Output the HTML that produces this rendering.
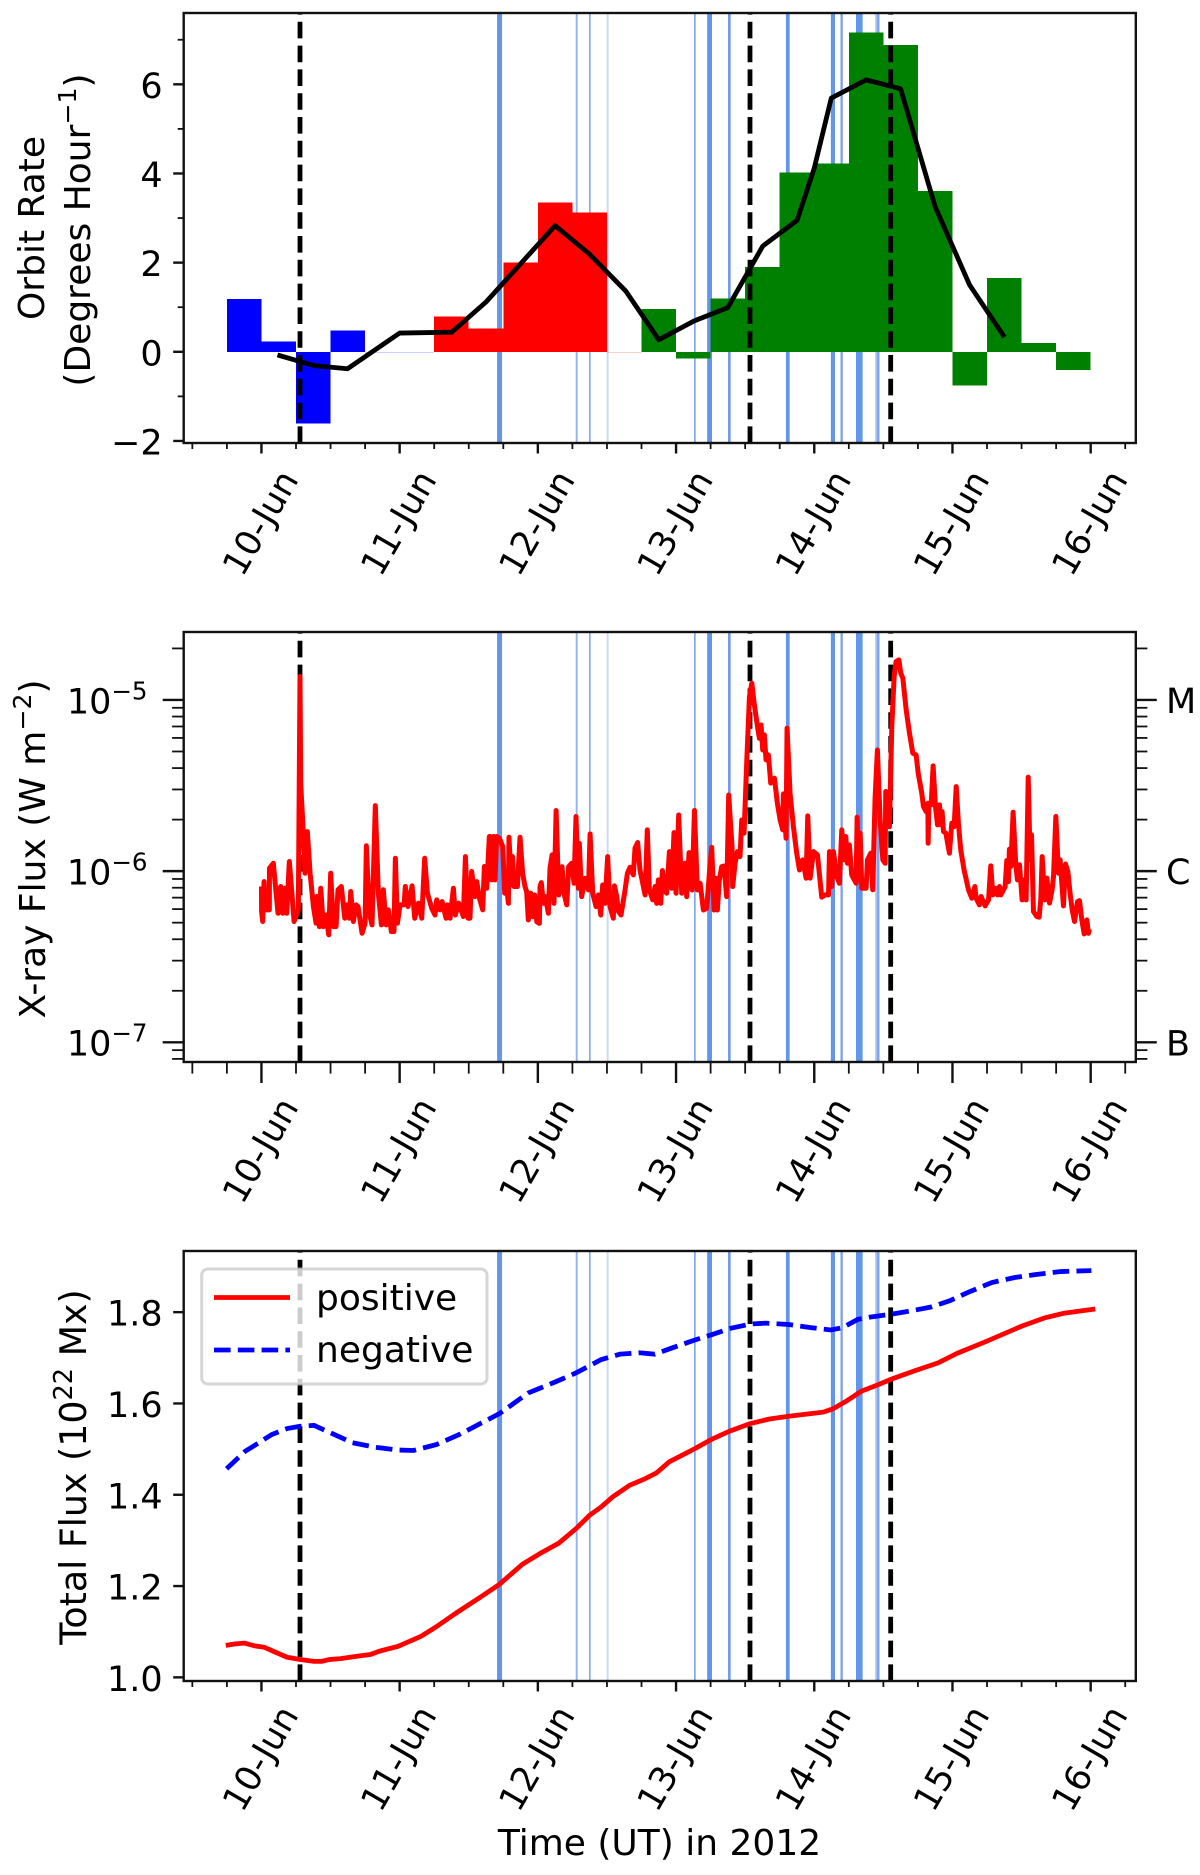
<!DOCTYPE html>
<html lang="en">
<head>
<meta charset="utf-8">
<title>Orbit rate, X-ray flux and total flux, June 2012</title>
<style>
html,body{margin:0;padding:0;background:#fff;}
svg{display:block;}
text{font-family:"DejaVu Sans","Liberation Sans",sans-serif;fill:#000;}
</style>
</head>
<body>
<svg id="figure" xmlns="http://www.w3.org/2000/svg" width="1200" height="1875" viewBox="0 0 1200 1875">
<rect x="0" y="0" width="1200" height="1875" fill="#fff"/>
<g id="panel-marks"></g>
<g font-size="36">
<text transform="translate(44,228) rotate(-90)" text-anchor="middle" font-size="36">Orbit Rate</text>
<text transform="translate(90,230) rotate(-90)" text-anchor="middle" font-size="36">(Degrees Hour<tspan font-size="25.2" dy="-14">−1</tspan><tspan dy="14">)</tspan></text>
<text transform="translate(45,849) rotate(-90)" text-anchor="middle" font-size="36">X-ray Flux (W m<tspan font-size="25.2" dy="-14">−2</tspan><tspan dy="14">)</tspan></text>
<text transform="translate(86,1467) rotate(-90)" text-anchor="middle" font-size="36.4">Total Flux (10<tspan font-size="25.5" dy="-14">22</tspan><tspan dy="14"> Mx)</tspan></text>
<text x="659.5" y="1855" text-anchor="middle" font-size="36">Time (UT) in 2012</text>
</g>
</svg>
<script>
// ---- shared x data (days since 10-Jun 2012 00:00 UT) ----
const dayLabels = ['10-Jun','11-Jun','12-Jun','13-Jun','14-Jun','15-Jun','16-Jun'];
const eventDays = [0.279, 3.535, 4.553];
const flareStart = [1.705, 2.274, 2.370, 2.498, 3.130, 3.225, 3.376, 3.795, 4.120, 4.190, 4.302, 4.440, 4.452];
const flareEnd   = [1.741, 2.288, 2.382, 2.512, 3.142, 3.260, 3.395, 3.822, 4.150, 4.206, 4.350, 4.452, 4.472];
const flareAlpha = [1, 0.7, 0.8, 0.35, 0.85, 1, 0.95, 1, 1, 0.9, 1, 0.5, 0.85];

// ---- orbit-rate panel ----
const barStartDays = [-0.25,0,0.25,0.5,0.75,1,1.25,1.5,1.75,2,2.25,2.5,2.75,3,3.25,3.5,3.75,4,4.25,4.5,4.75,5,5.25,5.5,5.75];
const barValues = [1.18,0.23,-1.61,0.48,0,0,0.79,0.52,2.0,3.35,3.13,0,0.96,-0.15,1.19,1.9,4.02,4.22,7.16,6.88,3.61,-0.755,1.65,0.2,-0.41];
const barColors = ['blue','blue','blue','blue','blue','blue','red','red','red','red','red','red','green','green','green','green','green','green','green','green','green','green','green','green','green'];
const smoothDays = [0.116,0.38,0.623,1.0,1.377,1.626,2.125,2.374,2.637,2.875,3.13,3.374,3.627,3.876,4.0,4.123,4.375,4.625,4.874,5.124,5.376];
const smoothRate = [-0.07,-0.31,-0.38,0.42,0.44,1.12,2.83,2.19,1.36,0.27,0.69,0.99,2.37,2.95,4.12,5.69,6.1,5.9,3.26,1.5,0.33];
const rateMajorTicks = [-2,0,2,4,6];
const rateMinorTicks = [-1,1,3,5,7];

// ---- X-ray panel (log10 of flux in W m^-2) ----
const xrayDays = [
0.000,0.001,0.009,0.019,0.028,0.057,0.058,0.086,0.106,0.120,
0.139,0.154,0.168,0.183,0.202,0.226,0.236,0.267,0.279,0.284,
0.303,0.315,0.332,0.352,0.376,0.395,0.400,0.419,0.429,0.448,
0.467,0.487,0.501,0.521,0.540,0.554,0.578,0.603,0.617,0.636,
0.646,0.665,0.685,0.699,0.728,0.750,0.759,0.781,0.800,0.824,
0.846,0.868,0.882,0.902,0.918,0.940,0.959,0.969,0.984,1.003,
1.032,1.041,1.061,1.090,1.109,1.136,1.160,1.181,1.201,1.232,
1.256,1.268,1.292,1.307,1.336,1.345,1.365,1.389,1.403,1.427,
1.461,1.476,1.495,1.509,1.521,1.545,1.558,1.577,1.601,1.613,
1.630,1.649,1.654,1.666,1.678,1.690,1.702,1.722,1.746,1.760,
1.775,1.787,1.791,1.808,1.816,1.828,1.852,1.871,1.890,1.907,
1.919,1.931,1.948,1.963,1.977,1.992,2.011,2.016,2.025,2.040,
2.054,2.076,2.088,2.103,2.117,2.132,2.151,2.175,2.189,2.209,
2.223,2.245,2.262,2.276,2.293,2.300,2.317,2.341,2.366,2.378,
2.397,2.421,2.438,2.455,2.469,2.486,2.505,2.522,2.546,2.554,
2.571,2.583,2.602,2.631,2.648,2.667,2.691,2.703,2.722,2.739,
2.776,2.792,2.807,2.831,2.848,2.860,2.872,2.889,2.901,2.915,
2.932,2.952,2.969,2.985,3.000,3.019,3.041,3.065,3.077,3.094,
3.116,3.133,3.154,3.174,3.198,3.222,3.241,3.258,3.275,3.289,
3.299,3.313,3.330,3.347,3.366,3.381,3.405,3.410,3.427,3.444,
3.463,3.475,3.492,3.512,3.531,3.548,3.565,3.589,3.603,3.615,
3.627,3.639,3.651,3.668,3.685,3.712,3.733,3.753,3.772,3.777,
3.796,3.803,3.825,3.849,3.873,3.893,3.917,3.941,3.953,3.970,
3.994,4.023,4.054,4.078,4.103,4.110,4.127,4.139,4.163,4.182,
4.199,4.216,4.228,4.240,4.254,4.271,4.303,4.310,4.327,4.332,
4.344,4.375,4.385,4.409,4.423,4.440,4.457,4.476,4.496,4.513,
4.517,4.544,4.561,4.578,4.592,4.612,4.626,4.641,4.665,4.689,
4.713,4.737,4.752,4.778,4.790,4.809,4.822,4.824,4.829,4.846,
4.860,4.877,4.892,4.906,4.916,4.925,4.935,4.952,4.978,4.995,
5.012,5.027,5.043,5.060,5.084,5.116,5.140,5.162,5.171,5.195,
5.207,5.236,5.261,5.277,5.292,5.311,5.326,5.340,5.350,5.381,
5.393,5.405,5.412,5.422,5.439,5.458,5.470,5.485,5.504,5.519,
5.533,5.548,5.562,5.572,5.586,5.610,5.627,5.639,5.649,5.668,
5.683,5.702,5.721,5.731,5.748,5.767,5.779,5.803,5.818,5.835,
5.851,5.866,5.883,5.905,5.919,5.936,5.953,5.972,5.984,5.991];
const xrayLogFlux = [
-6.09,-6.236,-6.294,-6.061,-6.226,-6.226,-5.983,-5.954,-6.129,-6.246,
-6.09,-6.246,-6.10,-6.246,-5.944,-6.187,-6.294,-6.226,-4.863,-5.486,
-5.778,-6.012,-5.769,-6.012,-6.207,-6.304,-6.148,-6.324,-6.10,-6.324,
-6.256,-6.372,-6.012,-6.324,-6.324,-6.109,-6.09,-6.275,-6.197,-6.275,
-6.119,-6.294,-6.197,-6.207,-6.363,-6.304,-5.852,-6.246,-6.314,-5.617,
-6.129,-6.314,-6.109,-6.314,-6.226,-6.353,-6.353,-5.925,-6.304,-6.197,
-6.197,-6.09,-6.207,-6.086,-6.275,-6.187,-6.275,-5.925,-6.129,-6.217,
-6.256,-6.168,-6.226,-6.178,-6.275,-6.197,-6.275,-6.10,-6.256,-6.187,
-6.265,-5.915,-6.275,-6.275,-6.002,-6.148,-6.061,-6.158,-6.226,-5.973,
-6.10,-5.798,-5.798,-6.051,-5.798,-6.051,-5.798,-5.808,-5.857,-6.129,
-6.10,-6.188,-5.802,-6.081,-5.915,-6.09,-6.09,-5.802,-6.013,-6.09,
-6.12,-6.285,-6.129,-6.266,-6.139,-6.295,-6.305,-6.09,-6.067,-6.188,
-6.149,-6.246,-5.983,-5.905,-6.188,-5.646,-6.139,-5.974,-6.129,-6.197,
-5.974,-5.954,-6.071,-5.681,-6.10,-5.837,-6.149,-6.042,-6.11,-5.783,
-6.129,-6.207,-6.139,-6.256,-6.081,-6.188,-5.915,-6.207,-6.275,-6.086,
-6.149,-6.236,-6.256,-6.11,-6.013,-5.977,-6.022,-5.866,-5.833,-5.993,
-6.139,-5.759,-6.11,-6.168,-6.09,-6.188,-6.051,-6.188,-5.997,-6.11,
-6.129,-5.886,-6.10,-5.775,-6.129,-5.672,-6.129,-5.954,-6.149,-5.892,
-6.11,-5.646,-6.11,-6.071,-6.227,-6.217,-6.013,-5.861,-6.227,-6.042,
-6.227,-6.051,-5.974,-5.97,-6.149,-5.555,-5.856,-6.09,-5.954,-5.886,
-5.915,-5.701,-5.778,-5.35,-4.98,-4.902,-5.019,-5.155,-5.224,-5.146,
-5.292,-5.204,-5.35,-5.321,-5.486,-5.457,-5.603,-5.701,-5.759,-5.549,
-5.808,-5.165,-5.545,-5.74,-5.895,-5.993,-5.934,-6.041,-5.677,-6.041,
-5.886,-5.905,-6.152,-6.139,-6.139,-5.886,-6.09,-5.886,-6.032,-6.071,
-5.759,-5.934,-5.798,-5.954,-5.847,-6.022,-6.071,-5.685,-6.051,-5.778,
-6.10,-6.10,-5.934,-5.895,-6.109,-5.574,-5.292,-5.691,-5.934,-5.954,
-5.535,-5.74,-5.155,-4.863,-4.776,-4.766,-4.844,-4.873,-5.058,-5.194,
-5.311,-5.321,-5.428,-5.545,-5.623,-5.652,-5.603,-5.837,-5.613,-5.613,
-5.385,-5.623,-5.73,-5.613,-5.73,-5.652,-5.769,-5.778,-5.895,-5.72,
-5.74,-5.506,-5.72,-5.876,-5.993,-6.109,-6.158,-6.09,-6.158,-6.197,
-6.148,-6.203,-6.168,-5.969,-6.139,-6.10,-6.139,-6.09,-6.139,-6.09,
-5.938,-6.061,-5.872,-5.973,-5.656,-5.963,-6.051,-5.963,-6.168,-6.051,
-6.168,-5.451,-5.934,-5.788,-6.236,-6.265,-6.269,-6.168,-5.915,-6.168,
-6.041,-6.187,-6.109,-6.032,-5.681,-6.012,-5.934,-6.203,-5.958,-6.002,
-6.129,-6.226,-6.294,-6.178,-6.172,-6.285,-6.367,-6.285,-6.363,-6.339];
const xrayExponents = [-5,-6,-7];
const goesClasses = ['M','C','B'];
const xrayDecades = [-8,-7,-6,-5];
const xrayMinorMultipliers = [2,3,4,5,6,7,8,9];

// ---- total-flux panel ----
const positiveDays = [-0.258,-0.197,-0.125,-0.05,0.019,0.102,0.186,0.28,0.38,0.435,0.49,0.573,0.684,0.789,0.85,0.989,1.155,1.266,1.404,1.571,1.723,1.889,2.014,2.152,2.277,2.374,2.457,2.54,2.665,2.775,2.859,2.95,3.136,3.261,3.385,3.538,3.676,3.815,4.065,4.134,4.231,4.342,4.453,4.564,4.73,4.896,5.035,5.229,5.506,5.673,5.811,6.033];
const positiveFlux = [1.070,1.073,1.075,1.069,1.066,1.055,1.044,1.039,1.035,1.035,1.039,1.041,1.046,1.05,1.057,1.068,1.09,1.111,1.14,1.173,1.204,1.248,1.271,1.294,1.326,1.355,1.373,1.395,1.421,1.435,1.448,1.472,1.501,1.522,1.539,1.556,1.566,1.572,1.581,1.588,1.605,1.627,1.64,1.654,1.672,1.689,1.71,1.734,1.77,1.788,1.798,1.807];
const negativeDays = [-0.252,-0.119,-0.008,0.075,0.186,0.28,0.38,0.49,0.657,0.823,0.989,1.1,1.266,1.432,1.571,1.723,1.931,2.125,2.277,2.457,2.595,2.734,2.845,2.956,3.136,3.261,3.399,3.538,3.649,3.815,3.981,4.12,4.203,4.314,4.397,4.564,4.702,4.841,4.98,5.118,5.285,5.451,5.59,5.783,6.005];
const negativeFlux = [1.457,1.495,1.516,1.532,1.545,1.55,1.552,1.537,1.514,1.504,1.498,1.497,1.51,1.532,1.554,1.578,1.623,1.647,1.667,1.696,1.708,1.711,1.708,1.72,1.739,1.751,1.765,1.774,1.776,1.773,1.766,1.761,1.766,1.784,1.789,1.796,1.803,1.811,1.825,1.844,1.865,1.876,1.882,1.889,1.891];
const fluxTicks = [1.0,1.2,1.4,1.6,1.8];

// ---- axis functions ----
const AX_LEFT = 183.7, AX_RIGHT = 1135.8;
const panelTops = [13, 632, 1251];
const PANEL_H = 430;
const LINE_W = 4.8;
const DASHES = '16.6 7.2';
const FONT = 35;
const LEGEND_FONT = 36;
const SUP_FONT = 24.5;
const dayLo = -0.5625, dayHi = 6.3265;
function xDay(d){ return AX_LEFT + (d - dayLo) / (dayHi - dayLo) * (AX_RIGHT - AX_LEFT); }
function yRate(v){ return panelTops[0] + (7.6 - v) / (7.6 + 2.046) * PANEL_H; }
function yLog(v){ return panelTops[1] + (-4.603 - v) / (-4.603 + 7.115) * PANEL_H; }
function yFlux(v){ return panelTops[2] + (1.934 - v) / (1.934 - 0.992) * PANEL_H; }

const NS = 'http://www.w3.org/2000/svg';
const root = document.getElementById('panel-marks');
function make(tag, attrs, parent){
  const e = document.createElementNS(NS, tag);
  for (const k in attrs) e.setAttribute(k, attrs[k]);
  (parent || root).appendChild(e);
  return e;
}
function pathFrom(xs, ys, xf, yf){
  let s = '';
  for (let i = 0; i < xs.length; i++) s += (i ? 'L' : 'M') + xf(xs[i]).toFixed(2) + ' ' + yf(ys[i]).toFixed(2);
  return s;
}
function drawSpans(p){
  const top = panelTops[p];
  flareStart.forEach(function(s, i){
    const r = make('rect', {x: xDay(s), y: top, width: xDay(flareEnd[i]) - xDay(s), height: PANEL_H, fill: '#6495ed', 'fill-opacity': flareAlpha[i]});
    
    
  });
}
function drawEvents(p){
  const top = panelTops[p];
  eventDays.forEach(function(d){
    const l = make('line', {x1: xDay(d), x2: xDay(d), y1: top + PANEL_H, y2: top, stroke: '#000', 'stroke-width': LINE_W, 'stroke-dasharray': DASHES});
    
    
  });
}
function drawFrame(p){
  const top = panelTops[p];
  const f = make('rect', {x: AX_LEFT, y: top, width: AX_RIGHT - AX_LEFT, height: PANEL_H, fill: 'none', stroke: '#111', 'stroke-width': 2.4});
  
  
}
function drawXAxis(p, majorLen, minorLen, labelOffset){
  const bottom = panelTops[p] + PANEL_H;
  for (let q = -2; q <= 25; q++){
    if (q % 4 === 0) continue;
    const d = q / 4;
    const t = make('line', {x1: xDay(d), x2: xDay(d), y1: bottom, y2: bottom + minorLen, stroke: '#111', 'stroke-width': 1.8});
    
    
  }
  dayLabels.forEach(function(lab, i){
    const x = xDay(i);
    const t = make('line', {x1: x, x2: x, y1: bottom, y2: bottom + majorLen, stroke: '#111', 'stroke-width': 2.4});
    
    
    const y = bottom + labelOffset;
    const lx = x - 1.5;
    const tx = make('text', {x: lx, y: y, dy: '.36em', 'text-anchor': 'middle', 'font-size': FONT, transform: 'rotate(-60 ' + lx.toFixed(2) + ' ' + y + ')'});
    
    
    tx.textContent = lab;
  });
}
function yTick(y, len, width, side){
  const x0 = side === 'right' ? AX_RIGHT : AX_LEFT;
  const x1 = side === 'right' ? AX_RIGHT + len : AX_LEFT - len;
  return make('line', {x1: x0, x2: x1, y1: y, y2: y, stroke: '#111', 'stroke-width': width});
}

// ---- panel 1: orbit rate ----
drawSpans(0);
barValues.forEach(function(v, i){
  const x0 = xDay(barStartDays[i]), x1 = xDay(barStartDays[i] + 0.25);
  const y0 = yRate(Math.max(v, 0)), y1 = yRate(Math.min(v, 0));
  const b = make('rect', {x: x0, y: y0, width: x1 - x0, height: Math.max(y1 - y0, 1), fill: barColors[i], 'fill-opacity': v === 0 ? 0.2 : 1, 'shape-rendering': 'crispEdges'});
  
  
});
drawEvents(0);
const smoothLine = make('path', {d: pathFrom(smoothDays, smoothRate, xDay, yRate), fill: 'none', stroke: '#000', 'stroke-width': LINE_W, 'stroke-linejoin': 'round'});


rateMinorTicks.forEach(function(v){
  const t = yTick(yRate(v), 6, 1.8, 'left');
  
  
});
rateMajorTicks.forEach(function(v){
  const t = yTick(yRate(v), 10.5, 2.4, 'left');
  
  
  const l = make('text', {x: 162.7, y: yRate(v) + 13.5, 'text-anchor': 'end', 'font-size': FONT});
  
  
  l.textContent = String(v).replace('-', '\u2212');
});
drawXAxis(0, 10.5, 6, 79.5);
drawFrame(0);

// ---- panel 2: X-ray flux ----
drawSpans(1);
drawEvents(1);
const xrayLine = make('path', {d: pathFrom(xrayDays, xrayLogFlux, xDay, yLog), fill: 'none', stroke: '#ff0000', 'stroke-width': 5, 'stroke-linejoin': 'round'});


xrayDecades.forEach(function(dec){
  xrayMinorMultipliers.forEach(function(m){
    const lv = dec + Math.log10(m);
    if (lv > -4.603 || lv < -7.115) return;
    ['left', 'right'].forEach(function(side){
      const t = yTick(yLog(lv), 11.6, 1.8, side);
      
      
    });
  });
});
xrayExponents.forEach(function(ex, i){
  const y = yLog(ex);
  ['left', 'right'].forEach(function(side){
    const t = yTick(y, 21, 2.4, side);
    
    
  });
  const l = make('text', {x: 147.5, y: y + 13.3, 'text-anchor': 'end', 'font-size': FONT});
  
  
  l.textContent = '10';
  const sup = make('tspan', {'font-size': SUP_FONT, dy: -14}, l);
  sup.textContent = '\u2212' + Math.abs(ex);
  const c = make('text', {x: 1166, y: y + 13, 'font-size': FONT});
  
  
  c.textContent = goesClasses[i];
});
drawXAxis(1, 21, 11.6, 88);
drawFrame(1);

// ---- panel 3: total flux ----
drawSpans(2);
drawEvents(2);
const posLine = make('path', {d: pathFrom(positiveDays, positiveFlux, xDay, yFlux), fill: 'none', stroke: '#ff0000', 'stroke-width': LINE_W, 'stroke-linejoin': 'round'});


const negLine = make('path', {d: pathFrom(negativeDays, negativeFlux, xDay, yFlux), fill: 'none', stroke: '#0000ff', 'stroke-width': LINE_W, 'stroke-dasharray': DASHES});


fluxTicks.forEach(function(v){
  const t = yTick(yFlux(v), 10.5, 2.4, 'left');
  
  
  const l = make('text', {x: 162.7, y: yFlux(v) + 13.5, 'text-anchor': 'end', 'font-size': FONT});
  
  
  l.textContent = v.toFixed(1);
});
drawXAxis(2, 10.5, 6, 77);
drawFrame(2);

// ---- legend ----
const legend = make('g', {});


const legendBox = make('rect', {x: 201.7, y: 1269, width: 285.3, height: 115, rx: 6, fill: '#fff', 'fill-opacity': 0.8, stroke: '#ccc', 'stroke-opacity': 0.8, 'stroke-width': 3}, legend);


const legendPos = make('line', {x1: 214, x2: 290, y1: 1297.5, y2: 1297.5, stroke: '#ff0000', 'stroke-width': LINE_W}, legend);


const legendNeg = make('line', {x1: 214, x2: 290, y1: 1350, y2: 1350, stroke: '#0000ff', 'stroke-width': LINE_W, 'stroke-dasharray': DASHES}, legend);


const legendPosText = make('text', {x: 316, y: 1310, 'font-size': LEGEND_FONT}, legend);


legendPosText.textContent = 'positive';
const legendNegText = make('text', {x: 316, y: 1362, 'font-size': LEGEND_FONT}, legend);


legendNegText.textContent = 'negative';
</script>
</body>
</html>
